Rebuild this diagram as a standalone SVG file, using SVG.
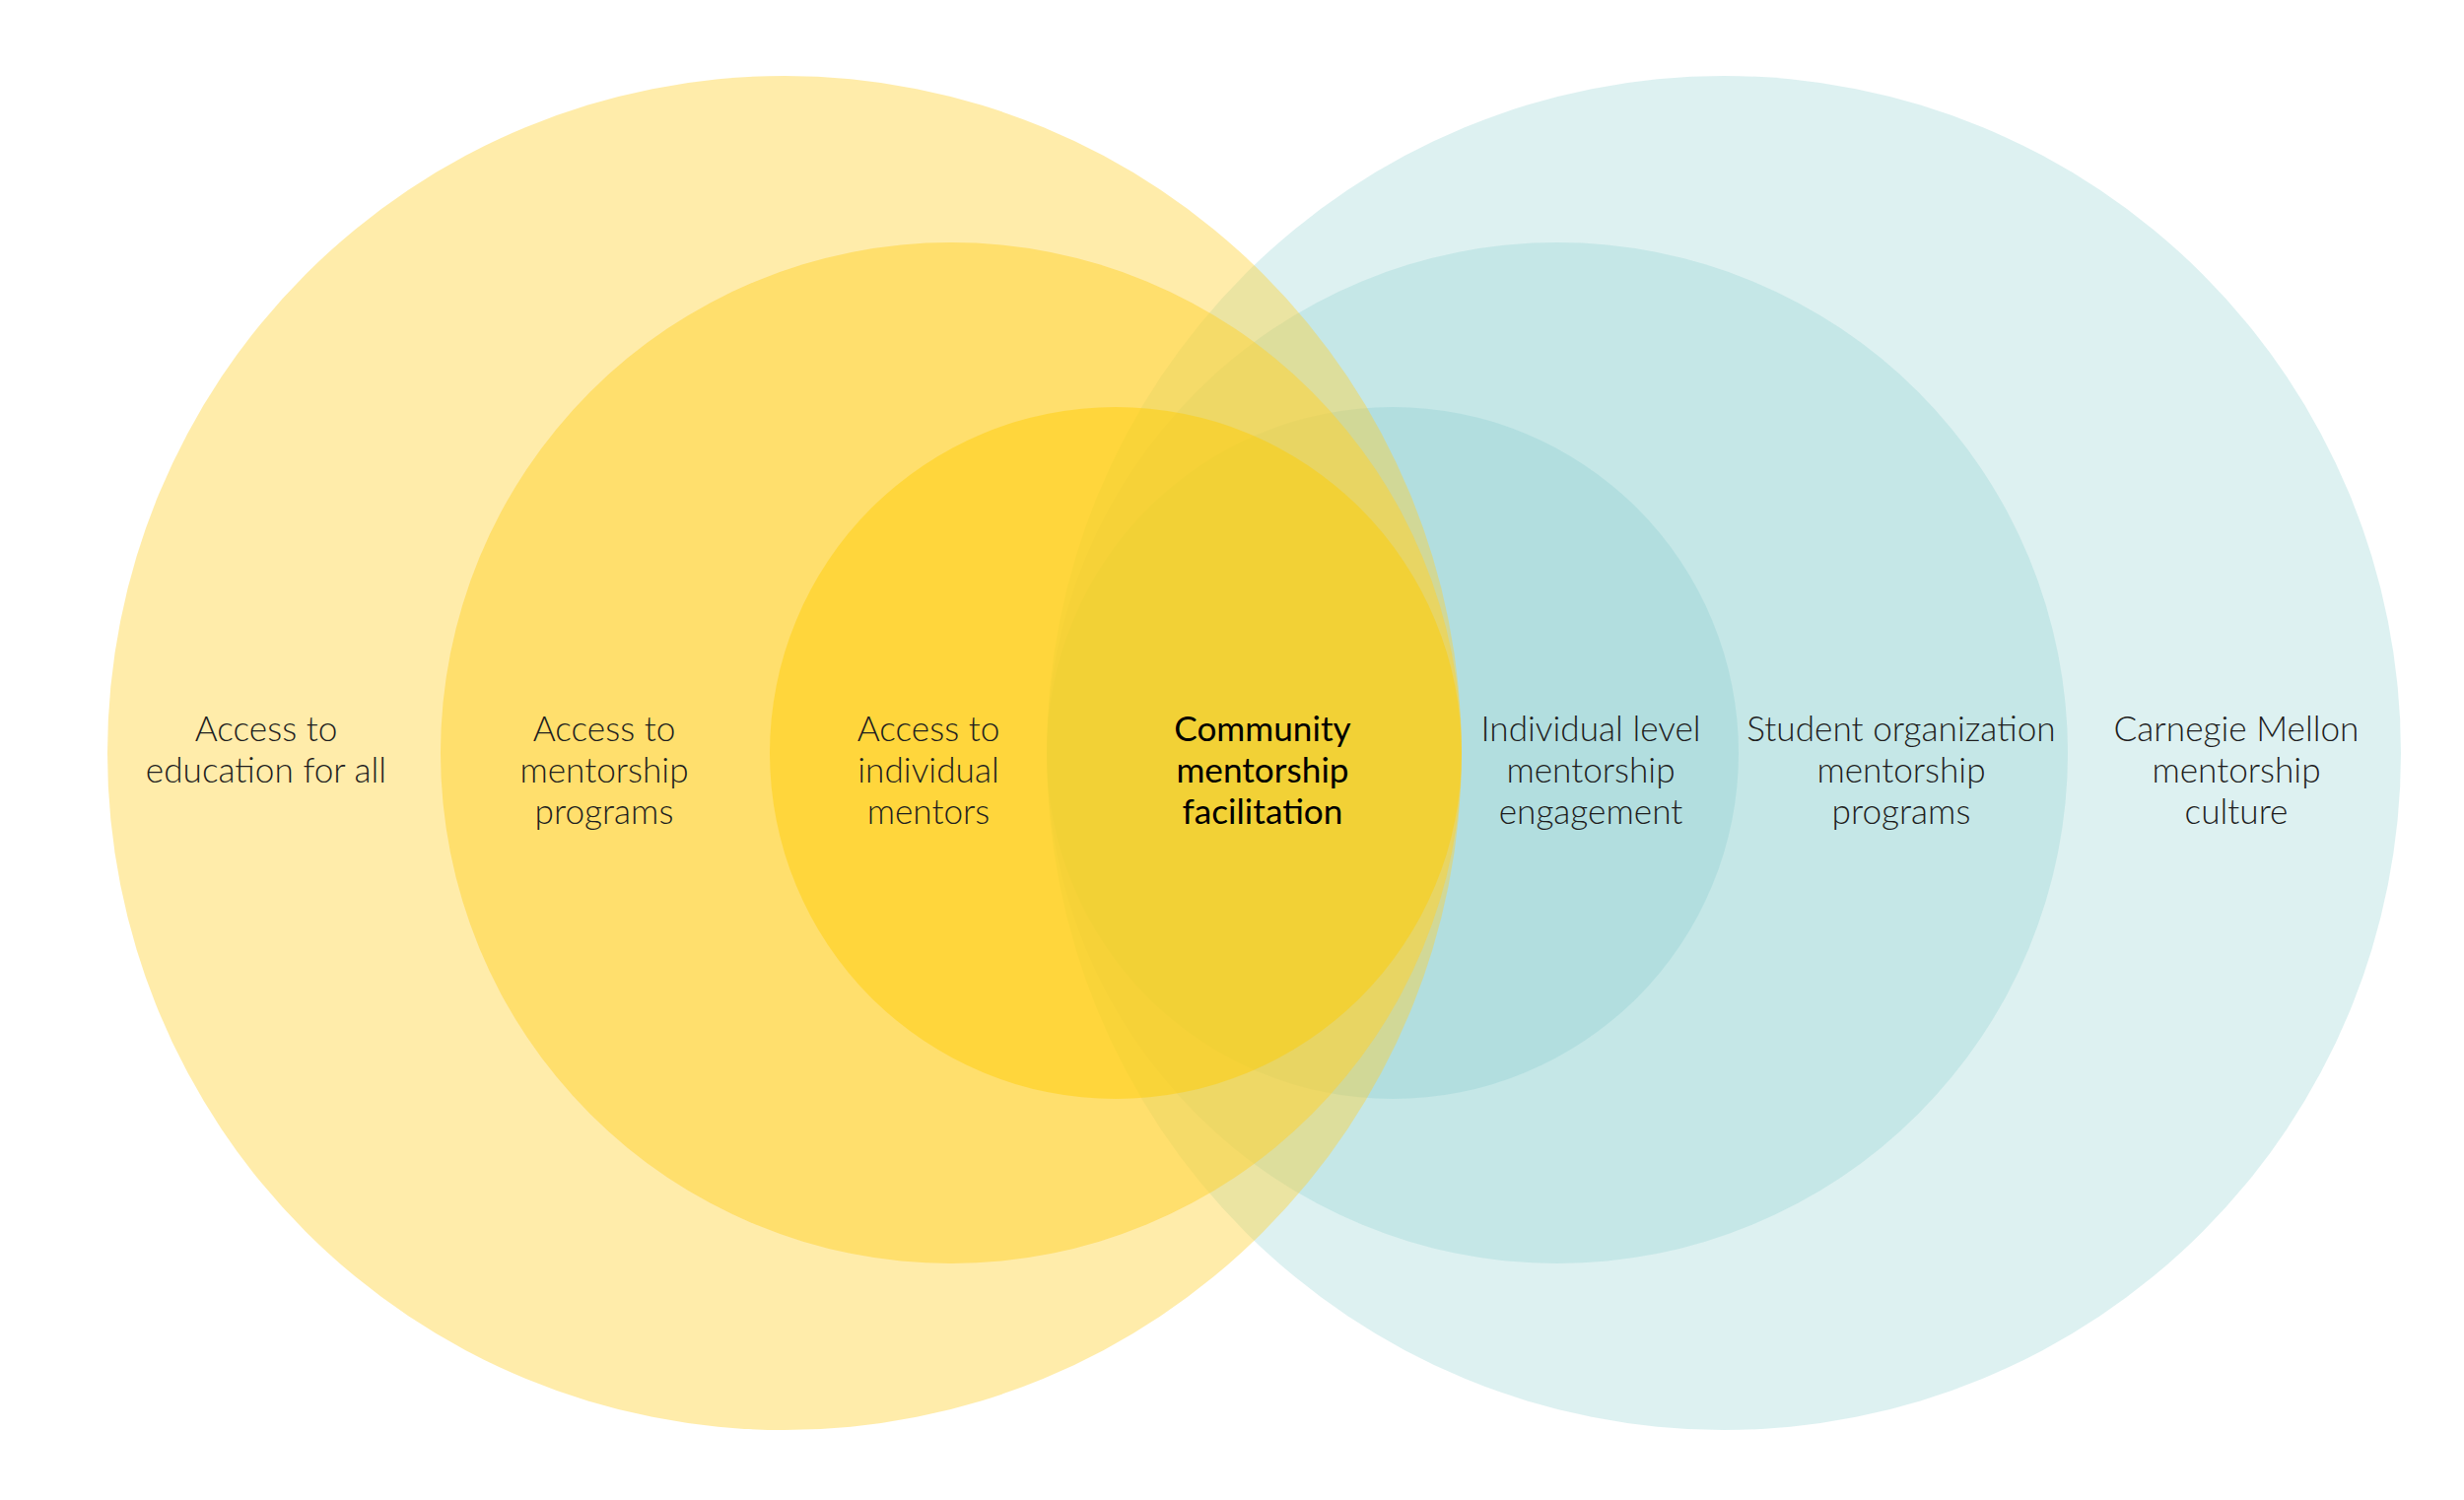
<svg xmlns="http://www.w3.org/2000/svg" width="2500" height="1522" viewBox="0 0 2500 1522">
<style>
.y{fill:#FFD230}
.t{fill:#76C6C8}
text{font-family:Lato,"Open Sans","Liberation Sans",sans-serif;font-size:35.2px;text-anchor:middle}
.lbl{font-weight:300;fill:#1f1f1f}
.main{font-weight:400;fill:#000}
</style>
<rect width="2500" height="1522" fill="#fff"/>
<g id="right-big"><circle class="t" cx="1749" cy="764" r="687" fill-opacity="0.248"/></g>
<g id="right-medium"><circle class="t" cx="1580" cy="764" r="518" fill-opacity="0.233"/></g>
<g id="right-small"><circle class="t" cx="1413" cy="764" r="351" fill-opacity="0.24"/></g>
<g id="left-big"><circle class="y" cx="796" cy="764" r="687" fill-opacity="0.41"/></g>
<g id="left-medium"><circle class="y" cx="965" cy="764" r="518" fill-opacity="0.5"/></g>
<g id="left-small"><circle cx="1132" cy="764" r="351" fill="#FFCB00" fill-opacity="0.45"/></g>
<g id="connectors"></g>
<g id="labels">
<g id="t1"><text class="lbl" x="270" y="752">Access to</text><text class="lbl" x="270" y="794">education for all</text></g>
<g id="t2"><text class="lbl" x="613" y="752">Access to</text><text class="lbl" x="613" y="794">mentorship</text><text class="lbl" x="613" y="836">programs</text></g>
<g id="t3"><text class="lbl" x="942" y="752">Access to</text><text class="lbl" x="942" y="794">individual</text><text class="lbl" x="942" y="836">mentors</text></g>
<g id="t4"><text class="main" x="1281" y="752">Community</text><text class="main" x="1281" y="794">mentorship</text><text class="main" x="1281" y="836">facilitation</text></g>
<g id="t5"><text class="lbl" x="1614" y="752">Individual level</text><text class="lbl" x="1614" y="794">mentorship</text><text class="lbl" x="1614" y="836">engagement</text></g>
<g id="t6"><text class="lbl" x="1929" y="752">Student organization</text><text class="lbl" x="1929" y="794">mentorship</text><text class="lbl" x="1929" y="836">programs</text></g>
<g id="t7"><text class="lbl" x="2269" y="752">Carnegie Mellon</text><text class="lbl" x="2269" y="794">mentorship</text><text class="lbl" x="2269" y="836">culture</text></g>
</g>
</svg>
